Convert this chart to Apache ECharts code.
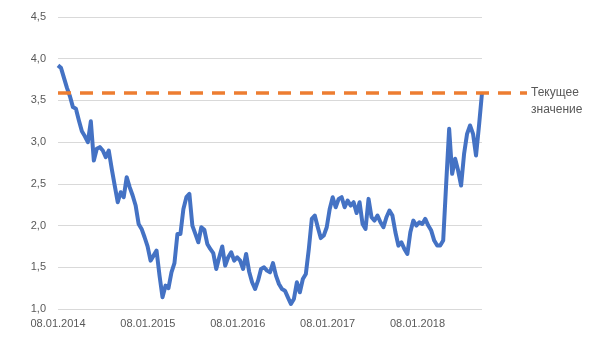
<!DOCTYPE html>
<html>
<head>
<meta charset="utf-8">
<script src="https://cdn.jsdelivr.net/npm/echarts@6/dist/echarts.min.js"></script>
<style>html,body{margin:0;padding:0;background:#fff}#c{width:600px;height:346px}</style>
</head>
<body>
<div id="c"></div>
<script>
// ---- data ----
var startDate = '08.01.2014';
var endDays = 1722;            // days from start to last observation
var xTickLabels = ['08.01.2014', '08.01.2015', '08.01.2016', '08.01.2017', '08.01.2018'];
var yTickLabels = ['1,0', '1,5', '2,0', '2,5', '3,0', '3,5', '4,0', '4,5'];
var seriesValues = [
  3.92, 3.89, 3.77, 3.65, 3.55, 3.42, 3.40, 3.26, 3.13, 3.07,
  3.00, 3.25, 2.78, 2.92, 2.94, 2.90, 2.82, 2.90, 2.68, 2.48,
  2.28, 2.40, 2.34, 2.58, 2.46, 2.36, 2.24, 2.02, 1.96, 1.86,
  1.75, 1.58, 1.64, 1.70, 1.40, 1.14, 1.28, 1.25, 1.44, 1.55,
  1.90, 1.90, 2.20, 2.34, 2.38, 2.00, 1.90, 1.80, 1.98, 1.95,
  1.78, 1.72, 1.67, 1.48, 1.62, 1.75, 1.52, 1.62, 1.68, 1.58,
  1.62, 1.58, 1.48, 1.66, 1.45, 1.32, 1.24, 1.34, 1.48, 1.50,
  1.46, 1.44, 1.55, 1.40, 1.30, 1.24, 1.22, 1.14, 1.06, 1.12,
  1.32, 1.20, 1.36, 1.42, 1.72, 2.08, 2.12, 1.98, 1.85, 1.88,
  1.98, 2.20, 2.34, 2.22, 2.32, 2.34, 2.22, 2.30, 2.24, 2.28,
  2.15, 2.28, 2.02, 1.96, 2.32, 2.10, 2.06, 2.12, 2.04, 1.98,
  2.10, 2.18, 2.12, 1.92, 1.76, 1.80, 1.72, 1.66, 1.92, 2.06,
  2.00, 2.04, 2.02, 2.08, 2.00, 1.94, 1.82, 1.76, 1.76, 1.82,
  2.50, 3.16, 2.62, 2.80, 2.66, 2.48, 2.86, 3.10, 3.20, 3.10,
  2.84, 3.20, 3.59
];
var currentValue = 3.59;
var currentLabel = 'Текущее\nзначение';

// ---- build ----
var step = endDays / (seriesValues.length - 1);
var lineData = seriesValues.map(function (v, i) { return [i * step, v]; });
var font = 'Liberation Sans';
var chart = echarts.init(document.getElementById('c'), null, {renderer: 'canvas'});
chart.setOption({
  animation: false,
  grid: [
    {left: 58, right: 118, top: 17, bottom: 37},
    {left: 58, right: 73, top: 17, bottom: 37}
  ],
  xAxis: [
    {
      type: 'value', gridIndex: 0, min: 0, max: endDays, interval: 365,
      axisLine: {show: false}, axisTick: {show: false}, splitLine: {show: false},
      axisLabel: {
        color: '#595959', fontFamily: font, fontSize: 11, margin: 9,
        showMaxLabel: false,
        formatter: function (v) {
          var k = Math.round(v / 365);
          return (Math.abs(v - k * 365) < 0.5 && xTickLabels[k]) ? xTickLabels[k] : '';
        }
      }
    },
    {type: 'value', gridIndex: 1, min: 0, max: 1, show: false}
  ],
  yAxis: [
    {
      type: 'value', gridIndex: 0, min: 1, max: 4.5, interval: 0.5,
      axisLine: {show: false}, axisTick: {show: false},
      splitLine: {lineStyle: {color: '#d9d9d9', width: 1}},
      axisLabel: {
        color: '#595959', fontFamily: font, fontSize: 11, margin: 12,
        formatter: function (v) { return yTickLabels[Math.round((v - 1) / 0.5)]; }
      }
    },
    {type: 'value', gridIndex: 1, min: 1, max: 4.5, show: false}
  ],
  series: [
    {
      type: 'line', xAxisIndex: 0, yAxisIndex: 0, data: lineData,
      showSymbol: false, lineStyle: {color: '#4472C4', width: 4, join: 'round'}, z: 3
    },
    {
      type: 'line', xAxisIndex: 1, yAxisIndex: 1, name: 'Текущее значение',
      data: [[0, currentValue], [1, currentValue]],
      showSymbol: false, lineStyle: {color: '#ED7D31', width: 3.5, type: [13, 9]}, z: 4
    }
  ],
  graphic: [{
    type: 'text', left: 531, top: 84,
    style: {text: currentLabel, fill: '#595959', font: '12px "Liberation Sans"', lineHeight: 17}
  }]
});
</script>
</body>
</html>
